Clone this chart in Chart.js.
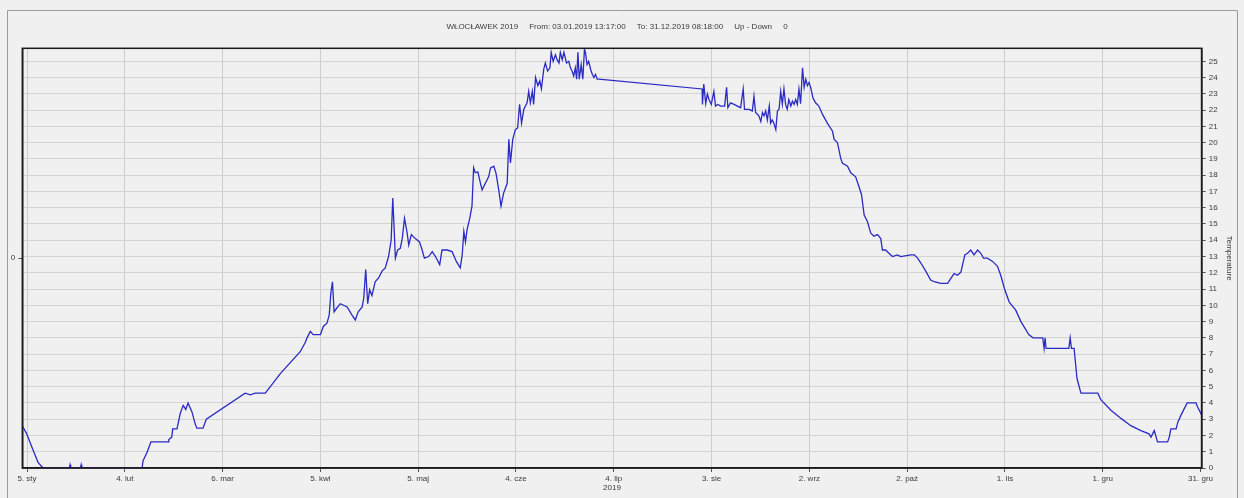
<!DOCTYPE html>
<html>
<head>
<meta charset="utf-8">
<title>WŁOCŁAWEK 2019</title>
<script src="https://cdn.jsdelivr.net/npm/chart.js@4/dist/chart.umd.min.js"></script>
<style>
  html, body { margin: 0; padding: 0; background: #f0f0f0; }
  #wrap { position: relative; width: 1244px; height: 498px; }
</style>
</head>
<body>
<div id="wrap"><canvas id="chart" width="1244" height="498"></canvas></div>
<script>
// Day of year (0 = 1 Jan 2019) of each reading
const days = [
  2.55, 3.9, 5.84, 7.38, 8.9, 17.0, 17.2, 17.4, 20.4, 20.6, 20.8, 39.3, 39.6, 40.8, 42.0, 47.3, 47.5, 48.4, 48.7, 50.0,
  51.0, 51.9, 52.7, 53.4, 54.6, 55.6, 56.1, 58.0, 59.0, 70.9, 72.5, 74.0, 77.1, 81.7, 87.8, 89.3, 89.9, 90.9, 91.8, 94.0,
  94.9, 96.0, 96.7, 97.2, 97.7, 98.2, 99.1, 100.1, 102.2, 103.7, 104.7, 105.6, 106.8, 107.3, 107.9, 108.5, 109.1, 109.8, 110.8, 111.9,
  112.9, 113.9, 114.9, 115.7, 116.2, 116.5, 117.0, 117.7, 118.5, 119.1, 119.8, 120.6, 121.1, 121.9, 123.1, 124.4, 125.2, 125.9, 127.2, 128.3,
  129.3, 130.6, 131.3, 132.9, 134.4, 135.7, 136.9, 137.5, 138.0, 138.5, 139.0, 139.8, 140.5, 141.0, 141.5, 142.3, 143.1, 143.6, 144.6, 145.6,
  146.2, 147.2, 147.9, 148.7, 149.4, 150.2, 151.3, 151.8, 152.3, 153.0, 153.8, 154.5, 155.1, 155.7, 156.4, 157.4, 157.9, 158.4, 159.0, 159.4,
  160.0, 160.7, 161.3, 161.8, 162.5, 163.0, 163.7, 164.4, 164.8, 165.4, 166.1, 166.6, 167.2, 167.6, 168.2, 168.7, 169.5, 170.2, 170.7, 171.2,
  171.7, 172.2, 172.6, 173.0, 173.4, 174.0, 174.5, 175.0, 175.3, 175.8, 176.3, 176.9, 177.4, 177.9, 178.4, 178.9, 179.4, 211.1, 211.2, 211.6,
  212.2, 212.7, 213.2, 213.9, 214.7, 215.2, 215.9, 216.8, 218.0, 218.6, 219.0, 219.8, 220.9, 221.9, 222.9, 223.7, 224.1, 225.5, 226.5, 227.0,
  227.5, 228.5, 229.1, 229.6, 230.1, 230.6, 231.1, 231.7, 232.1, 232.6, 233.1, 233.7, 234.2, 234.7, 235.2, 235.7, 236.2, 236.7, 237.2, 237.7,
  238.3, 238.8, 239.3, 239.8, 240.3, 240.8, 241.3, 241.9, 242.4, 242.9, 243.4, 243.9, 244.4, 245.1, 245.9, 246.9, 248.0, 249.5, 251.1, 251.6,
  252.6, 253.6, 254.1, 255.7, 256.7, 258.2, 259.2, 260.0, 260.8, 261.8, 262.8, 263.8, 264.9, 265.9, 266.4, 267.4, 268.4, 269.5, 271.0, 272.0,
  275.1, 276.2, 277.2, 278.2, 279.7, 281.2, 282.3, 284.3, 286.4, 287.4, 288.4, 289.5, 290.5, 291.0, 291.7, 292.5, 293.5, 294.5, 295.6, 296.6,
  297.4, 298.6, 300.2, 301.7, 302.7, 303.8, 305.3, 307.3, 308.9, 311.3, 312.6, 315.6, 316.0, 316.3, 316.6, 323.6, 324.0, 324.4, 325.2, 326.1,
  327.3, 332.5, 333.4, 336.5, 339.6, 342.6, 345.7, 348.2, 348.8, 349.8, 350.8, 353.9, 354.4, 354.9, 356.5, 357.0, 358.0, 359.0, 359.9, 362.6,
  363.1, 364.35
];

// Water temperature (°C) at each reading
const temps = [
  2.6, 2.1, 1.1, 0.35, 0, 0, 0.2, 0, 0, 0.2, 0, 0, 0.45, 0.95, 1.6, 1.6, 1.75, 1.9, 2.4, 2.4,
  3.35, 3.85, 3.6, 4.0, 3.45, 2.7, 2.45, 2.45, 3.0, 4.6, 4.5, 4.6, 4.6, 5.8, 7.15, 7.7, 8.0, 8.4, 8.2, 8.2,
  8.7, 8.9, 9.4, 10.75, 11.45, 9.6, 9.85, 10.1, 9.9, 9.4, 9.1, 9.6, 9.9, 10.45, 12.2, 10.1, 10.95, 10.6, 11.45, 11.7,
  12.1, 12.3, 13.0, 14.0, 16.6, 15.25, 12.9, 13.4, 13.5, 14.1, 15.35, 14.45, 13.7, 14.35, 14.1, 13.9, 13.4, 12.9, 13.0, 13.3,
  13.0, 12.5, 13.4, 13.4, 13.3, 12.7, 12.3, 13.1, 14.55, 13.9, 14.65, 15.35, 16.1, 18.45, 18.15, 18.2, 17.5, 17.1, 17.5, 17.9,
  18.45, 18.55, 18.1, 17.1, 16.1, 16.9, 17.5, 20.2, 18.75, 20.2, 20.8, 20.9, 22.35, 21.2, 22.05, 22.45, 23.15, 22.45, 23.15, 22.35,
  24.0, 23.5, 23.8, 23.3, 24.5, 24.9, 24.4, 24.6, 25.55, 25.0, 25.4, 25.1, 24.9, 25.55, 25.1, 25.55, 24.9, 25.0, 24.6, 24.4,
  24.1, 24.6, 23.9, 25.55, 23.9, 24.8, 23.9, 25.75, 25.55, 24.8, 25.0, 24.5, 24.2, 24.0, 24.2, 23.9, 23.9, 23.3, 22.35, 23.6,
  22.4, 23.0, 22.65, 22.35, 23.15, 22.25, 22.35, 22.25, 22.25, 23.4, 22.15, 22.45, 22.35, 22.25, 22.15, 23.3, 22.05, 22.05, 21.95, 22.85,
  21.85, 21.65, 21.3, 21.85, 21.65, 21.95, 21.4, 22.25, 21.2, 21.4, 21.2, 20.8, 21.95, 22.05, 23.15, 22.35, 23.3, 22.35, 22.05, 22.65,
  22.25, 22.55, 22.35, 22.65, 22.35, 23.3, 22.4, 24.6, 23.4, 23.9, 23.5, 23.7, 23.4, 22.75, 22.45, 22.25, 21.75, 21.2, 20.7, 20.2,
  20.0, 19.05, 18.75, 18.55, 18.15, 17.9, 17.3, 16.8, 15.55, 15.15, 14.45, 14.25, 14.35, 14.1, 13.4, 13.4, 13.2, 13.0, 13.1, 13.0,
  13.1, 13.1, 12.9, 12.6, 12.1, 11.55, 11.45, 11.35, 11.35, 11.65, 11.95, 11.85, 12.05, 12.5, 13.1, 13.2, 13.4, 13.1, 13.4, 13.2,
  12.9, 12.9, 12.7, 12.4, 11.85, 11.05, 10.2, 9.7, 9.0, 8.2, 8.0, 8.0, 7.35, 8.0, 7.35, 7.35, 8.0, 7.35, 7.35, 5.5,
  4.6, 4.6, 4.2, 3.55, 3.05, 2.6, 2.3, 2.1, 1.9, 2.3, 1.6, 1.6, 1.9, 2.4, 2.4, 2.8, 3.25, 3.65, 4.0, 4.0,
  3.75, 3.25
];

// Bottom axis ticks (day of year) and their labels
const xTickDays = [4, 34, 64, 94, 124, 154, 184, 214, 244, 274, 304, 334, 364];
const xTickLabels = ['5. sty', '4. lut', '6. mar', '5. kwi', '5. maj', '4. cze', '4. lip', '3. sie', '2. wrz', '2. paź', '1. lis', '1. gru', '31. gru'];

// Temperature axis ticks
const yTicks = [0, 1, 2, 3, 4, 5, 6, 7, 8, 9, 10, 11, 12, 13, 14, 15, 16, 17, 18, 19, 20, 21, 22, 23, 24, 25];

const headerText = 'WŁOCŁAWEK 2019     From: 03.01.2019 13:17:00     To: 31.12.2019 08:18:00     Up - Down     0';

const FONT = { family: '"Liberation Sans", Arial, sans-serif', size: 8, weight: 'normal' };
const TEXT = '#3a3a3a';

// Frame around the plot area and the window edge lines
const framePlugin = {
  id: 'frame',
  beforeDraw(chart) {
    const ctx = chart.ctx;
    ctx.save();
    ctx.fillStyle = '#f0f0f0';
    ctx.fillRect(0, 0, chart.width, chart.height);
    ctx.strokeStyle = '#9a9a9a';
    ctx.lineWidth = 1;
    ctx.beginPath();
    ctx.moveTo(7.5, chart.height);
    ctx.lineTo(7.5, 10.5);
    ctx.lineTo(1237.5, 10.5);
    ctx.lineTo(1237.5, chart.height);
    ctx.stroke();
    ctx.restore();
  },
  afterDraw(chart) {
    const a = chart.chartArea;
    const ctx = chart.ctx;
    ctx.save();
    ctx.strokeStyle = '#1a1a1a';
    ctx.lineWidth = 1.5;
    ctx.strokeRect(a.left, a.top, a.right - a.left, a.bottom - a.top);
    ctx.restore();
  }
};

new Chart(document.getElementById('chart'), {
  type: 'line',
  data: {
    datasets: [{
      label: 'Temperature',
      data: days.map((d, i) => ({ x: d, y: temps[i] })),
      borderColor: '#2a2ac4',
      borderWidth: 1.3,
      pointRadius: 0,
      tension: 0,
      fill: false
    }]
  },
  options: {
    responsive: false,
    animation: false,
    devicePixelRatio: 1,
    layout: { padding: { top: 0, right: 10, bottom: 5, left: 0 } },
    plugins: {
      legend: { display: false },
      tooltip: { enabled: false },
      title: {
        display: true,
        text: headerText,
        color: TEXT,
        font: FONT,
        padding: { top: 22, bottom: 16.7 }
      }
    },
    scales: {
      x: {
        type: 'linear',
        position: 'bottom',
        min: 2.55,
        max: 364.35,
        afterBuildTicks: s => { s.ticks = xTickDays.map(v => ({ value: v })); },
        afterFit: s => { s.height = 25; },
        ticks: {
          autoSkip: false,
          maxRotation: 0,
          padding: 2,
          color: TEXT,
          font: FONT,
          callback: (v, i) => xTickLabels[i]
        },
        grid: { color: '#cdcdcd', lineWidth: 1, tickLength: 4, tickColor: '#555' },
        border: { color: '#1a1a1a', width: 1.5 },
        title: { display: true, text: '2019', color: TEXT, font: FONT, padding: { top: 0, bottom: 0 } }
      },
      y: {
        type: 'linear',
        position: 'right',
        min: 0,
        max: 25.8,
        afterBuildTicks: s => { s.ticks = yTicks.map(v => ({ value: v })); },
        afterFit: s => { s.width = 32.3; },
        ticks: { padding: 3, color: TEXT, font: FONT },
        grid: { color: '#d4d4d4', lineWidth: 1, tickLength: 4, tickColor: '#555' },
        border: { color: '#1a1a1a', width: 1.5 },
        title: { display: true, text: 'Temperature', color: TEXT, font: FONT, padding: { top: 0, bottom: 0 } }
      },
      yL: {
        type: 'linear',
        position: 'left',
        min: -1,
        max: 1,
        afterBuildTicks: s => { s.ticks = [{ value: 0 }]; },
        afterFit: s => { s.width = 22.3; },
        ticks: { padding: 3, color: TEXT, font: FONT },
        grid: { drawOnChartArea: false, tickLength: 4, tickColor: '#555' },
        border: { color: '#1a1a1a', width: 1.5 }
      }
    }
  },
  plugins: [framePlugin]
});
</script>
</body>
</html>
